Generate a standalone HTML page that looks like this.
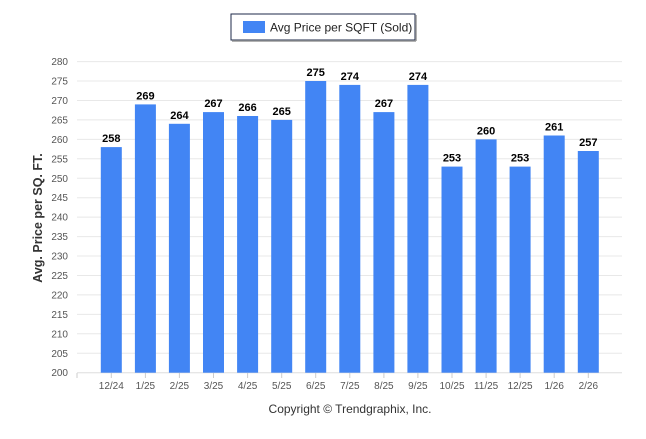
<!DOCTYPE html><html><head><style>body{margin:0;background:#fff}</style></head><body>
<svg width="646" height="434" xmlns="http://www.w3.org/2000/svg" font-family="Liberation Sans, sans-serif">
<rect x="231" y="14" width="184" height="26" fill="#fff" stroke="#1e2a4a" stroke-width="1"/>
<line x1="232" y1="41" x2="416" y2="41" stroke="#999" stroke-width="1.5"/>
<line x1="416" y1="15" x2="416" y2="41" stroke="#999" stroke-width="1.5"/>
<rect x="243" y="21" width="22" height="12" fill="#4285f4"/>
<text x="270" y="31.5" font-size="12" fill="#222">Avg Price per SQFT (Sold)</text>
<g stroke="#e8e8e8">
<line x1="77" x2="622" y1="353.3" y2="353.3"/><line x1="77" x2="622" y1="333.8" y2="333.8"/><line x1="77" x2="622" y1="314.4" y2="314.4"/><line x1="77" x2="622" y1="294.9" y2="294.9"/><line x1="77" x2="622" y1="275.5" y2="275.5"/><line x1="77" x2="622" y1="256" y2="256"/><line x1="77" x2="622" y1="236.6" y2="236.6"/><line x1="77" x2="622" y1="217.1" y2="217.1"/><line x1="77" x2="622" y1="197.7" y2="197.7"/><line x1="77" x2="622" y1="178.3" y2="178.3"/><line x1="77" x2="622" y1="158.8" y2="158.8"/><line x1="77" x2="622" y1="139.4" y2="139.4"/><line x1="77" x2="622" y1="119.9" y2="119.9"/><line x1="77" x2="622" y1="100.5" y2="100.5"/><line x1="77" x2="622" y1="81" y2="81"/><line x1="77" x2="622" y1="61.6" y2="61.6"/>
</g>
<line x1="77" x2="622" y1="372.7" y2="372.7" stroke="#ddd"/>
<g font-size="10" fill="#555" text-anchor="end">
<text x="68" y="376.2">200</text><text x="68" y="356.8">205</text><text x="68" y="337.3">210</text><text x="68" y="317.9">215</text><text x="68" y="298.4">220</text><text x="68" y="279">225</text><text x="68" y="259.5">230</text><text x="68" y="240.1">235</text><text x="68" y="220.6">240</text><text x="68" y="201.2">245</text><text x="68" y="181.8">250</text><text x="68" y="162.3">255</text><text x="68" y="142.9">260</text><text x="68" y="123.4">265</text><text x="68" y="104">270</text><text x="68" y="84.5">275</text><text x="68" y="65.1">280</text>
</g>
<g fill="#4285f4">
<rect x="100.8" y="147.1" width="21" height="225.6"/>
<rect x="134.9" y="104.4" width="21" height="268.3"/>
<rect x="168.9" y="123.8" width="21" height="248.9"/>
<rect x="203" y="112.1" width="21" height="260.6"/>
<rect x="237.1" y="116" width="21" height="256.7"/>
<rect x="271.2" y="119.9" width="21" height="252.8"/>
<rect x="305.2" y="81" width="21" height="291.7"/>
<rect x="339.3" y="84.9" width="21" height="287.8"/>
<rect x="373.4" y="112.1" width="21" height="260.6"/>
<rect x="407.4" y="84.9" width="21" height="287.8"/>
<rect x="441.5" y="166.6" width="21" height="206.1"/>
<rect x="475.6" y="139.4" width="21" height="233.3"/>
<rect x="509.6" y="166.6" width="21" height="206.1"/>
<rect x="543.7" y="135.5" width="21" height="237.2"/>
<rect x="577.8" y="151" width="21" height="221.7"/>
</g>
<g font-size="11" font-weight="bold" text-anchor="middle" fill="#000">
<text x="111.3" y="142.1">258</text><text x="145.4" y="99.4">269</text><text x="179.4" y="118.8">264</text><text x="213.5" y="107.1">267</text><text x="247.6" y="111">266</text><text x="281.7" y="114.9">265</text><text x="315.7" y="76">275</text><text x="349.8" y="79.9">274</text><text x="383.9" y="107.1">267</text><text x="417.9" y="79.9">274</text><text x="452" y="161.6">253</text><text x="486.1" y="134.4">260</text><text x="520.1" y="161.6">253</text><text x="554.2" y="130.5">261</text><text x="588.3" y="146">257</text>
</g>
<g font-size="10" fill="#555" text-anchor="middle">
<text x="111.3" y="389">12/24</text><text x="145.4" y="389">1/25</text><text x="179.4" y="389">2/25</text><text x="213.5" y="389">3/25</text><text x="247.6" y="389">4/25</text><text x="281.7" y="389">5/25</text><text x="315.7" y="389">6/25</text><text x="349.8" y="389">7/25</text><text x="383.9" y="389">8/25</text><text x="417.9" y="389">9/25</text><text x="452" y="389">10/25</text><text x="486.1" y="389">11/25</text><text x="520.1" y="389">12/25</text><text x="554.2" y="389">1/26</text><text x="588.3" y="389">2/26</text>
</g>
<g stroke="#ccc">
<line x1="77" x2="77" y1="373" y2="378"/><line x1="111.3" x2="111.3" y1="373" y2="378"/><line x1="145.4" x2="145.4" y1="373" y2="378"/><line x1="179.4" x2="179.4" y1="373" y2="378"/><line x1="213.5" x2="213.5" y1="373" y2="378"/><line x1="247.6" x2="247.6" y1="373" y2="378"/><line x1="281.7" x2="281.7" y1="373" y2="378"/><line x1="315.7" x2="315.7" y1="373" y2="378"/><line x1="349.8" x2="349.8" y1="373" y2="378"/><line x1="383.9" x2="383.9" y1="373" y2="378"/><line x1="417.9" x2="417.9" y1="373" y2="378"/><line x1="452" x2="452" y1="373" y2="378"/><line x1="486.1" x2="486.1" y1="373" y2="378"/><line x1="520.1" x2="520.1" y1="373" y2="378"/><line x1="554.2" x2="554.2" y1="373" y2="378"/><line x1="588.3" x2="588.3" y1="373" y2="378"/>
</g>
<text x="350" y="413" font-size="12" fill="#333" text-anchor="middle">Copyright © Trendgraphix, Inc.</text>
<text transform="translate(42,218) rotate(-90)" font-size="12.5" font-weight="bold" fill="#333" text-anchor="middle">Avg. Price per SQ. FT.</text>
</svg></body></html>
